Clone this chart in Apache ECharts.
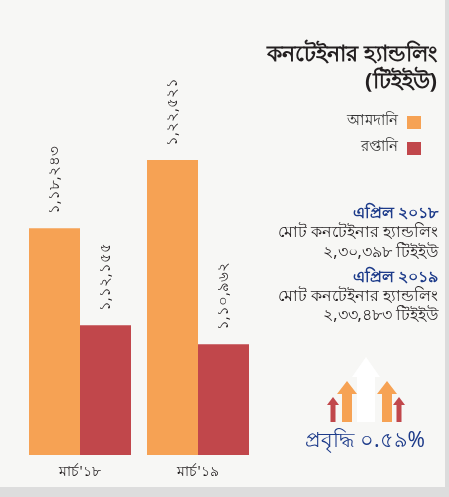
<!DOCTYPE html>
<html>
<head>
<meta charset="utf-8">
<script src="https://cdn.jsdelivr.net/npm/echarts@6/dist/echarts.min.js"></script>
<style>
  html, body { margin: 0; padding: 0; background: #f7f7f5; }
  #chart { width: 449px; height: 497px; }
</style>
</head>
<body>
<div id="chart"></div>
<script>
// Container handling (TEU): imports and exports, two months compared
const categories = ["মার্চ'১৮", "মার্চ'১৯"];
const importLabel = "আমদানি";
const exportLabel = "রপ্তানি";
const importValues = [118243, 122521];
const exportValues = [112155, 110962];

// Bengali digits with Indian-style grouping (x,xx,xxx)
const toBn = (n) => {
  const digits = "০১২৩৪৫৬৭৮৯";
  const s = String(n);
  let last3 = s.slice(-3), rest = s.slice(0, -3);
  const parts = [];
  while (rest.length > 2) { parts.unshift(rest.slice(-2)); rest = rest.slice(0, -2); }
  if (rest) parts.unshift(rest);
  const grouped = parts.length ? parts.join(",") + "," + last3 : last3;
  return grouped.replace(/[0-9]/g, (d) => digits[+d]);
};

const ORANGE = "#f6a254";
const RED = "#c1474b";
const NAVY = "#1d3b8a";
const INK = "#231f20";
const FONT = "'Noto Sans', sans-serif";

const chart = echarts.init(document.getElementById("chart"));

const barLabel = {
  show: true,
  position: "top",
  rotate: 90,
  align: "left",
  verticalAlign: "middle",
  distance: 14,
  fontSize: 15,
  fontFamily: FONT,
  color: INK,
  formatter: (p) => toBn(p.value)
};

// Upward arrow polygon: centre x, tip y, base y, head half-width, shaft half-width, head height
const arrow = (cx, tip, base, hw, sw, hh, fill, z) => ({
  type: "polygon",
  z: z,
  shape: {
    points: [
      [cx, tip], [cx + hw, tip + hh], [cx + sw, tip + hh], [cx + sw, base],
      [cx - sw, base], [cx - sw, tip + hh], [cx - hw, tip + hh]
    ]
  },
  style: { fill: fill }
});

chart.setOption({
  backgroundColor: "#f7f7f5",
  animation: false,
  grid: { left: 21, top: 41, width: 236, bottom: 42 },
  xAxis: {
    type: "category",
    data: categories,
    axisLine: { show: false },
    axisTick: { show: false },
    axisLabel: { color: INK, fontSize: 14, fontFamily: FONT, margin: 10 }
  },
  yAxis: {
    type: "value",
    min: 104000,
    max: 130000,
    show: false
  },
  series: [
    {
      name: importLabel, type: "bar", data: importValues,
      barWidth: 51, barGap: "0%",
      itemStyle: { color: ORANGE },
      label: barLabel
    },
    {
      name: exportLabel, type: "bar", data: exportValues,
      barWidth: 51,
      itemStyle: { color: RED },
      label: barLabel
    }
  ],
  graphic: [
    // page edges
    { type: "rect", shape: { x: 445, y: 0, width: 4, height: 497 }, style: { fill: "#dcdcdc" } },
    { type: "rect", shape: { x: 0, y: 487, width: 449, height: 10 }, style: { fill: "#dddddd" } },

    // title
    { type: "text", right: 12, top: 44, style: { text: "কনটেইনার হ্যান্ডলিং", font: "bold 22px " + FONT, fill: INK, textAlign: "right" } },
    { type: "text", right: 12, top: 71, style: { text: "(টিইইউ)", font: "bold 22px " + FONT, fill: INK, textAlign: "right" } },

    // legend
    { type: "text", right: 51, top: 113, style: { text: importLabel, font: "15px " + FONT, fill: "#333" } },
    { type: "rect", shape: { x: 407, y: 116, width: 14, height: 13 }, style: { fill: ORANGE } },
    { type: "text", right: 51, top: 139, style: { text: exportLabel, font: "15px " + FONT, fill: "#333" } },
    { type: "rect", shape: { x: 407, y: 142, width: 14, height: 13 }, style: { fill: RED } },

    // monthly totals
    { type: "text", right: 11, top: 205, style: { text: "এপ্রিল ২০১৮", font: "bold 16px " + FONT, fill: NAVY } },
    { type: "text", right: 11, top: 224, style: { text: "মোট কনটেইনার হ্যান্ডলিং", font: "16px " + FONT, fill: INK } },
    { type: "text", right: 11, top: 244, style: { text: "২,৩০,৩৯৮ টিইইউ", font: "16px " + FONT, fill: INK } },
    { type: "text", right: 11, top: 269, style: { text: "এপ্রিল ২০১৯", font: "bold 16px " + FONT, fill: NAVY } },
    { type: "text", right: 11, top: 288, style: { text: "মোট কনটেইনার হ্যান্ডলিং", font: "16px " + FONT, fill: INK } },
    { type: "text", right: 11, top: 307, style: { text: "২,৩৩,৪৮৩ টিইইউ", font: "16px " + FONT, fill: INK } },

    // growth arrows
    arrow(366, 357, 422, 14, 9, 20, "#ffffff", 1),
    arrow(347, 381, 422, 10, 5, 13, ORANGE, 2),
    arrow(387, 381, 422, 10, 5, 13, ORANGE, 2),
    arrow(333, 397, 422, 6, 2.5, 8, RED, 3),
    arrow(399, 397, 422, 6, 2.5, 8, RED, 3),

    { type: "text", right: 24, top: 431, style: { text: "প্রবৃদ্ধি ০.৫৯%", font: "21px " + FONT, fill: NAVY } }
  ]
});
</script>
</body>
</html>
